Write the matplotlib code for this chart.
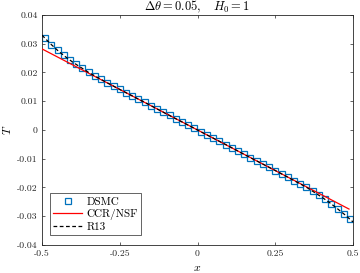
import matplotlib
matplotlib.use("Agg")
import matplotlib.pyplot as plt

# DSMC data
dsmc_x = [-0.49, -0.47, -0.45, -0.43, -0.41, -0.39, -0.37, -0.35, -0.33, -0.31,
          -0.29, -0.27, -0.25, -0.23, -0.21, -0.19, -0.17, -0.15, -0.13, -0.11,
          -0.09, -0.07, -0.05, -0.03, -0.01, 0.01, 0.03, 0.05, 0.07, 0.09,
          0.11, 0.13, 0.15, 0.17, 0.19, 0.21, 0.23, 0.25, 0.27, 0.29,
          0.31, 0.33, 0.35, 0.37, 0.39, 0.41, 0.43, 0.45, 0.47, 0.49]
dsmc_T = [0.0321, 0.0296, 0.0277, 0.0260, 0.0243, 0.0228, 0.0214, 0.0200, 0.0188, 0.0176,
          0.0164, 0.0152, 0.0141, 0.0130, 0.0118, 0.0107, 0.0096, 0.0085, 0.0073, 0.0062,
          0.0051, 0.0039, 0.0028, 0.0017, 0.0006, -0.0006, -0.0017, -0.0028, -0.0039, -0.0051,
          -0.0062, -0.0073, -0.0085, -0.0096, -0.0107, -0.0118, -0.0130, -0.0141, -0.0152, -0.0164,
          -0.0176, -0.0187, -0.0199, -0.0212, -0.0227, -0.0241, -0.0257, -0.0274, -0.0292, -0.0310]

# CCR/NSF
ccr_x = [-0.5, 0.0, 0.487]
ccr_T = [0.0282, 0.0, -0.0275]

# R13
r13_x = [-0.5, -0.475, -0.45, -0.425, -0.4, -0.35, -0.3, -0.25, -0.2, -0.15, -0.1, -0.05,
         0.0, 0.05, 0.1, 0.15, 0.2, 0.25, 0.3, 0.35, 0.4, 0.425, 0.45, 0.475, 0.5]
r13_T = [0.0330, 0.0302, 0.0277, 0.0255, 0.0235, 0.0200, 0.0170, 0.0141, 0.0113, 0.0085, 0.0056, 0.0028,
         0.0, -0.0028, -0.0056, -0.0085, -0.0113, -0.0141, -0.0170, -0.0199, -0.0234, -0.0253, -0.0274, -0.0296, -0.0320]

xticks = [-0.5, -0.25, 0, 0.25, 0.5]
xtick_labels = ["-0.5", "-0.25", "0", "0.25", "0.5"]
yticks = [-0.04, -0.03, -0.02, -0.01, 0, 0.01, 0.02, 0.03, 0.04]
ytick_labels = ["-0.04", "-0.03", "-0.02", "-0.01", "0", "0.01", "0.02", "0.03", "0.04"]

plt.rcParams['font.family'] = ['cmr10', 'DejaVu Serif']
plt.rcParams['mathtext.fontset'] = 'cm'
plt.rcParams['axes.unicode_minus'] = False

fig = plt.figure(figsize=(3.6, 2.73), dpi=100)
ax = fig.add_axes([0.1167, 0.1026, 0.864, 0.8425])

ax.plot(dsmc_x, dsmc_T, linestyle='none', marker='s', markersize=4.5,
        markerfacecolor='none', markeredgecolor='#0072BD', markeredgewidth=0.9,
        label='DSMC', zorder=2)
ax.plot(ccr_x, ccr_T, color='#FF0000', linewidth=0.9, label='CCR/NSF', zorder=3)
ax.plot(r13_x, r13_T, color='black', linestyle=(0, (3, 2)), linewidth=0.9,
        label='R13', zorder=4)

ax.set_xlim(-0.5, 0.5)
ax.set_ylim(-0.04, 0.04)
ax.set_xticks(xticks)
ax.set_xticklabels(xtick_labels)
ax.set_yticks(yticks)
ax.set_yticklabels(ytick_labels)
ax.tick_params(direction='in', length=2.5, width=0.5, labelsize=7,
               top=True, right=True, colors='#262626', pad=3)
for s in ax.spines.values():
    s.set_linewidth(0.6)
    s.set_color('#262626')

ax.set_xlabel('$x$', fontsize=8.5, labelpad=4)
ax.set_ylabel('$T$', fontsize=8.5, labelpad=3)
ax.set_title(r'$\Delta\theta = 0.05, \quad H_0 = 1$', fontsize=9, pad=3)

leg = ax.legend(loc='lower left', bbox_to_anchor=(0.026, 0.043), fontsize=8,
                frameon=True, fancybox=False, edgecolor='#262626', framealpha=1,
                handlelength=2.6, handletextpad=0.35, borderpad=0.3, labelspacing=0.2,
                borderaxespad=0.0)
leg.get_frame().set_linewidth(0.5)

fig.savefig('out.png', dpi=100)
